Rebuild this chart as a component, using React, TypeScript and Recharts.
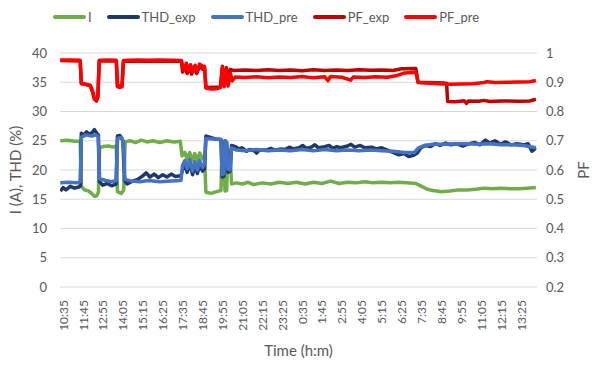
import { LineChart, Line, XAxis, YAxis, CartesianGrid, Label } from 'recharts';

// Time axis: minutes after 10:35, one labelled tick every 70 min.
const TICK_STEP = 70;
const timeLabels = [
  '10:35', '11:45', '12:55', '14:05', '15:15', '16:25', '17:35', '18:45',
  '19:55', '21:05', '22:15', '23:25', '0:35', '1:45', '2:55', '4:05',
  '5:15', '6:25', '7:35', '8:45', '9:55', '11:05', '12:15', '13:25',
];
const leftTicks = [0, 5, 10, 15, 20, 25, 30, 35, 40];
const pfTicks = [0.2, 0.3, 0.4, 0.5, 0.6, 0.7, 0.8, 0.9, 1];

type Pt = [number, number]; // [minutes after 10:35, value]

const currentI: Pt[] = [
  [-10, 25.0], [15, 25.1], [40, 24.9], [60, 24.9], [64, 17.2], [75, 16.6], [90, 16.4], [100, 16.0],
  [110, 15.5], [118, 15.6], [124, 16.2], [128, 23.8], [140, 24.0], [160, 24.1], [175, 23.9], [187, 24.1],
  [191, 16.3], [205, 16.0], [213, 16.6], [218, 24.8], [235, 25.0], [255, 24.7], [275, 25.1], [295, 24.8],
  [315, 25.0], [340, 24.7], [365, 25.0], [390, 24.8], [412, 24.9], [418, 22.4], [428, 23.0], [436, 21.8],
  [445, 23.0], [455, 21.6], [463, 22.8], [472, 21.5], [480, 22.9], [490, 21.9], [497, 22.3], [502, 16.2],
  [520, 16.0], [540, 16.3], [555, 16.5], [559, 24.6], [565, 24.4], [569, 16.4], [575, 16.5], [579, 23.4],
  [587, 23.2], [592, 17.6], [610, 17.8], [630, 17.6], [650, 17.9], [670, 17.5], [700, 17.8], [730, 17.6],
  [760, 17.9], [790, 17.7], [820, 17.9], [850, 17.6], [880, 17.9], [910, 17.7], [940, 18.1], [970, 17.7],
  [1000, 17.9], [1030, 17.8], [1060, 18.0], [1090, 17.8], [1120, 17.9], [1150, 17.8], [1180, 17.9],
  [1210, 17.8], [1240, 17.7], [1260, 17.2], [1280, 16.7], [1300, 16.5], [1330, 16.3], [1360, 16.4],
  [1390, 16.6], [1420, 16.6], [1450, 16.7], [1480, 16.9], [1510, 16.8], [1540, 16.9], [1570, 16.8],
  [1600, 16.8], [1630, 16.9], [1662, 17.0],
];

const thdExp: Pt[] = [
  [-10, 16.4], [0, 17.0], [10, 16.6], [25, 17.2], [40, 16.9], [55, 17.1], [61, 17.3], [64, 26.3],
  [72, 25.9], [82, 26.5], [92, 26.1], [102, 26.4], [110, 26.9], [118, 26.3], [124, 26.0], [128, 18.0],
  [140, 17.4], [155, 17.7], [170, 17.3], [186, 17.6], [191, 25.8], [200, 25.9], [210, 25.0], [216, 18.2],
  [225, 17.6], [240, 18.0], [262, 18.4], [280, 19.0], [292, 19.5], [305, 18.8], [320, 19.3], [335, 18.7],
  [350, 19.2], [365, 18.8], [380, 19.3], [395, 18.9], [414, 19.0], [420, 20.0], [428, 21.0], [436, 19.6],
  [445, 21.2], [455, 19.2], [463, 20.6], [472, 19.4], [480, 21.0], [490, 19.8], [497, 20.2], [502, 25.8],
  [515, 25.6], [535, 25.3], [555, 25.2], [559, 18.8], [565, 18.9], [569, 25.0], [575, 24.6], [579, 19.6],
  [587, 19.8], [592, 24.2], [605, 24.0], [618, 23.6], [628, 23.8], [645, 23.2], [655, 23.5], [672, 23.3],
  [680, 22.9], [690, 23.4], [715, 23.4], [730, 23.7], [745, 23.4], [765, 23.6], [780, 23.5], [795, 23.9],
  [808, 23.6], [830, 23.8], [842, 24.2], [855, 23.7], [872, 23.9], [885, 24.3], [898, 23.8], [920, 24.0],
  [935, 24.2], [948, 23.7], [962, 24.0], [975, 23.8], [1000, 24.1], [1012, 24.4], [1025, 23.9],
  [1045, 24.2], [1060, 23.8], [1085, 23.9], [1100, 23.6], [1120, 23.8], [1140, 23.4], [1160, 23.0],
  [1180, 22.6], [1198, 22.8], [1215, 22.3], [1232, 22.5], [1245, 22.9], [1258, 23.8], [1275, 24.2],
  [1292, 24.0], [1308, 24.5], [1325, 24.2], [1345, 24.6], [1362, 24.3], [1385, 24.5], [1405, 24.1],
  [1428, 24.5], [1448, 24.7], [1465, 24.3], [1485, 25.1], [1500, 24.6], [1518, 25.0], [1538, 24.4],
  [1555, 24.8], [1575, 24.3], [1595, 24.5], [1618, 24.3], [1635, 24.5], [1648, 23.2], [1656, 23.6],
  [1662, 23.4],
];

const thdPre: Pt[] = [
  [-10, 17.8], [20, 17.9], [50, 17.8], [60, 18.0], [64, 25.6], [80, 26.0], [100, 25.8], [115, 26.0],
  [123, 25.8], [128, 18.5], [150, 18.2], [170, 18.0], [187, 18.2], [191, 25.4], [205, 25.6], [212, 24.8],
  [217, 18.4], [240, 18.1], [270, 18.0], [300, 18.2], [340, 18.0], [380, 18.1], [414, 18.2], [420, 20.8],
  [428, 21.6], [436, 20.2], [445, 21.8], [455, 19.8], [463, 21.4], [472, 20.0], [480, 21.6], [490, 20.4],
  [497, 21.0], [502, 25.4], [530, 25.3], [555, 25.2], [559, 19.2], [565, 19.4], [569, 25.0], [575, 24.8],
  [579, 20.2], [587, 20.0], [592, 23.8], [610, 23.4], [640, 23.3], [680, 23.5], [720, 23.3], [760, 23.4],
  [800, 23.3], [840, 23.5], [880, 23.3], [920, 23.5], [960, 23.3], [1000, 23.4], [1040, 23.3], [1080, 23.4],
  [1120, 23.3], [1160, 23.2], [1200, 23.0], [1235, 23.0], [1250, 23.8], [1270, 24.2], [1300, 24.4],
  [1340, 24.4], [1380, 24.5], [1420, 24.5], [1460, 24.4], [1500, 24.5], [1540, 24.3], [1580, 24.3],
  [1620, 24.2], [1662, 23.8],
];

const pfExp: Pt[] = [
  [-10, 0.974], [60, 0.973], [64, 0.897], [95, 0.888], [103, 0.868], [110, 0.842], [117, 0.836],
  [122, 0.848], [127, 0.973], [187, 0.973], [191, 0.887], [207, 0.887], [212, 0.972], [380, 0.973],
  [416, 0.972], [420, 0.935], [428, 0.955], [436, 0.93], [444, 0.95], [452, 0.928], [460, 0.952],
  [470, 0.93], [480, 0.955], [490, 0.945], [497, 0.95], [502, 0.882], [553, 0.884], [560, 0.955],
  [566, 0.89], [574, 0.95], [580, 0.9], [588, 0.944], [600, 0.94], [640, 0.942], [680, 0.94], [720, 0.943],
  [760, 0.94], [800, 0.942], [840, 0.939], [880, 0.943], [920, 0.94], [960, 0.942], [1000, 0.94],
  [1040, 0.943], [1080, 0.941], [1120, 0.942], [1160, 0.94], [1190, 0.946], [1240, 0.947], [1248, 0.9],
  [1280, 0.899], [1320, 0.898], [1348, 0.897], [1352, 0.834], [1380, 0.833], [1410, 0.837], [1418, 0.828],
  [1425, 0.836], [1460, 0.835], [1480, 0.838], [1500, 0.834], [1540, 0.836], [1600, 0.835], [1640, 0.836],
  [1662, 0.842],
];

const pfPre: Pt[] = [
  [-10, 0.976], [30, 0.976], [60, 0.975], [64, 0.895], [80, 0.893], [95, 0.89], [103, 0.872], [110, 0.845],
  [117, 0.84], [122, 0.85], [127, 0.975], [160, 0.976], [187, 0.975], [191, 0.885], [200, 0.882],
  [207, 0.885], [212, 0.974], [260, 0.976], [300, 0.975], [340, 0.976], [380, 0.975], [416, 0.974],
  [420, 0.955], [427, 0.94], [433, 0.965], [440, 0.94], [448, 0.96], [456, 0.935], [464, 0.958], [472, 0.94],
  [480, 0.962], [490, 0.955], [497, 0.955], [502, 0.88], [520, 0.877], [540, 0.878], [553, 0.882],
  [560, 0.95], [566, 0.885], [574, 0.94], [580, 0.887], [588, 0.93], [595, 0.905], [605, 0.918],
  [640, 0.916], [680, 0.919], [720, 0.915], [760, 0.918], [800, 0.916], [840, 0.92], [880, 0.915],
  [920, 0.919], [931, 0.905], [940, 0.92], [980, 0.917], [1011, 0.907], [1020, 0.918], [1060, 0.916],
  [1100, 0.919], [1140, 0.917], [1170, 0.922], [1200, 0.932], [1240, 0.934], [1248, 0.899], [1280, 0.897],
  [1320, 0.895], [1360, 0.893], [1400, 0.894], [1440, 0.895], [1480, 0.899], [1490, 0.902], [1520, 0.899],
  [1560, 0.9], [1600, 0.901], [1640, 0.902], [1662, 0.906],
];

const SERIES = [
  { id: 'I', color: '#70AD47', axis: 'left', points: currentI },
  { id: 'THD_exp', color: '#203864', axis: 'left', points: thdExp },
  { id: 'THD_pre', color: '#4472C4', axis: 'left', points: thdPre },
  { id: 'PF_exp', color: '#C00000', axis: 'right', points: pfExp },
  { id: 'PF_pre', color: '#FF0000', axis: 'right', points: pfPre },
];

const FONT = 'Lato, "Open Sans", sans-serif';
const TEXT = '#595959';

function TimeTick(props: any) {
  const { x, y, payload } = props;
  const label = timeLabels[Math.round(payload.value / TICK_STEP)] ?? '';
  return (
    <text
      transform={`translate(${x},${y + 13}) rotate(-90)`}
      textAnchor="end"
      dominantBaseline="central"
      fill={TEXT}
      fontSize={12}
      fontFamily={FONT}
    >
      {label}
    </text>
  );
}

// Axis titles are drawn through Label's content so they sit exactly where Excel put them.
function AxisTitle({ text, dx, dy, vertical }: { text: string; dx: number; dy: number; vertical: boolean }) {
  return (props: any) => {
    const { x, y, width, height } = props.viewBox;
    const cx = vertical ? x + dx : x + width / 2;
    const cy = vertical ? y + height / 2 : y + dy;
    return (
      <text
        transform={`translate(${cx},${cy})${vertical ? ' rotate(-90)' : ''}`}
        textAnchor="middle"
        dominantBaseline="central"
        fill={TEXT}
        fontSize={15}
        fontFamily={FONT}
      >
        {text}
      </text>
    );
  };
}

export default function App() {
  return (
    <div style={{ position: 'relative', width: 596, height: 365, background: '#fff' }}>
      <style>{'body{margin:0}'}</style>
      <div
        style={{
          position: 'absolute', top: 9, left: 0, width: 596, paddingRight: 64, boxSizing: 'border-box',
          display: 'flex', justifyContent: 'center', alignItems: 'center',
          fontFamily: FONT, fontSize: 13, color: TEXT, zIndex: 1,
        }}
      >
        {SERIES.map((s, i) => (
          <div key={s.id} style={{ display: 'flex', alignItems: 'center', marginLeft: i === 0 ? 0 : 15 }}>
            <span style={{ display: 'inline-block', width: 33, height: 4, borderRadius: 2, background: s.color, marginRight: 2 }} />
            <span>{s.id}</span>
          </div>
        ))}
      </div>
      <LineChart width={596} height={365} margin={{ top: 53, right: 0, bottom: 0, left: 0 }}>
        <CartesianGrid yAxisId="left" vertical={false} stroke="#D9D9D9" strokeWidth={1} />
        <XAxis
          dataKey="t"
          type="number"
          domain={[-11, 1666]}
          allowDataOverflow
          ticks={timeLabels.map((_, i) => i * TICK_STEP)}
          interval={0}
          tick={<TimeTick />}
          tickLine={false}
          axisLine={false}
          tickSize={0}
          tickMargin={0}
          height={78}
        >
          <Label content={AxisTitle({ text: 'Time (h:m)', dx: 0, dy: 63, vertical: false })} />
        </XAxis>
        <YAxis
          yAxisId="left"
          domain={[0, 40]}
          ticks={leftTicks}
          interval={0}
          width={60}
          axisLine={false}
          tickLine={false}
          tickSize={0}
          tickMargin={13}
          tick={{ fill: TEXT, fontSize: 13, fontFamily: FONT }}
        >
          <Label content={AxisTitle({ text: 'I (A), THD (%)', dx: 15, dy: 0, vertical: true })} />
        </YAxis>
        <YAxis
          yAxisId="right"
          orientation="right"
          domain={[0.2, 1]}
          ticks={pfTicks}
          interval={0}
          width={59}
          axisLine={false}
          tickLine={false}
          tickSize={0}
          tickMargin={9}
          tickFormatter={(v: number) => String(v)}
          tick={{ fill: TEXT, fontSize: 13, fontFamily: FONT }}
        >
          <Label content={AxisTitle({ text: 'PF', dx: 46, dy: 0, vertical: true })} />
        </YAxis>
        {SERIES.map((s) => (
          <Line
            key={s.id}
            yAxisId={s.axis}
            data={s.points.map(([t, v]) => ({ t, v }))}
            dataKey="v"
            name={s.id}
            type="linear"
            stroke={s.color}
            strokeWidth={3.5}
            strokeLinejoin="round"
            dot={false}
            activeDot={false}
            isAnimationActive={false}
          />
        ))}
      </LineChart>
    </div>
  );
}
